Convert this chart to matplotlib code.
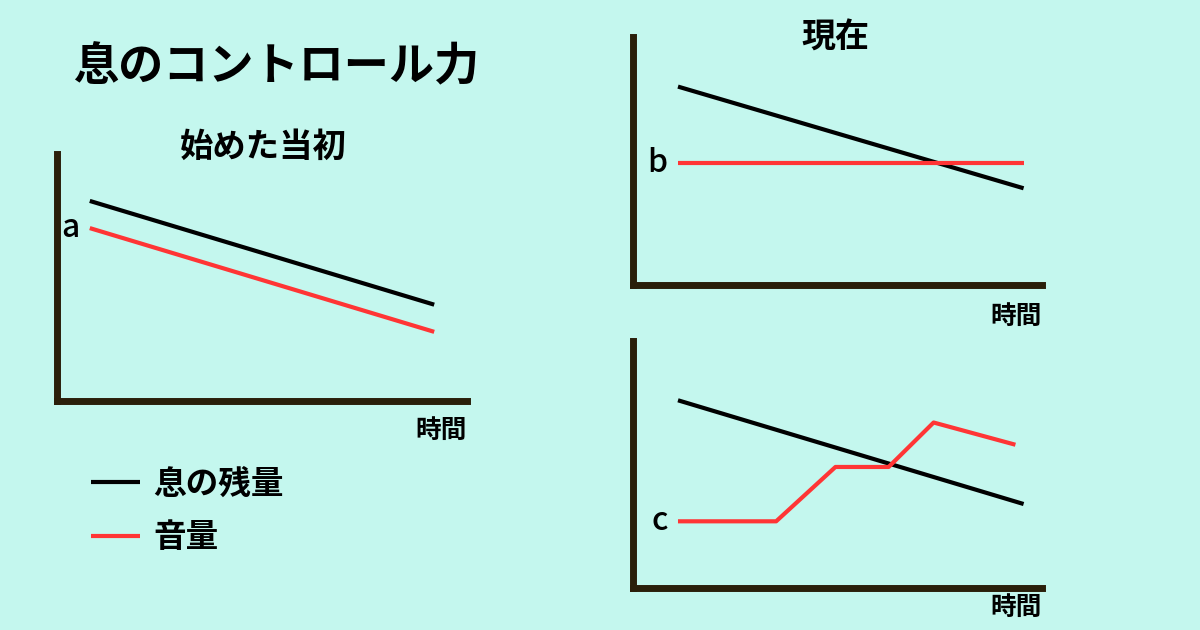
import matplotlib.pyplot as plt

plt.rcParams['font.family'] = ['Noto Sans CJK JP', 'DejaVu Sans']

BG = '#c4f7ee'
AXIS = '#2a1f0a'
BLACK = '#000000'
RED = '#ff3535'

# 始めた当初
t1 = [0.8, 9.2]
breath1 = [8.1, 3.9]
volume1 = [7.0, 2.8]

# 現在
t2 = [1.1, 9.55]
breath2 = [8.0, 3.9]
volume2 = [4.9, 4.9]

# 現在 (下)
t3 = [1.1, 9.55]
breath3 = [7.6, 3.4]
t3_vol = [1.1, 3.5, 4.95, 6.25, 7.35, 9.35]
volume3 = [2.7, 2.7, 4.9, 4.9, 6.7, 5.8]

labels = ['a', 'b', 'c']
legend_labels = ['息の残量', '音量']

fig = plt.figure(figsize=(12, 6.3), dpi=100, facecolor=BG)


def make_axes(rect):
    ax = fig.add_axes(rect)
    ax.set_facecolor('none')
    ax.set_xlim(0, 10)
    ax.set_ylim(0, 10)
    for s in ['top', 'right']:
        ax.spines[s].set_visible(False)
    for s in ['left', 'bottom']:
        ax.spines[s].set_linewidth(5)
        ax.spines[s].set_color(AXIS)
        ax.spines[s].set_capstyle('projecting')
    ax.set_xticks([])
    ax.set_yticks([])
    return ax


W, H = 1200, 630


def rect(left, bottom, right, top):
    return [left / W, 1 - bottom / H, (right - left) / W, (bottom - top) / H]


ax1 = make_axes(rect(57, 401, 467, 154))
ax2 = make_axes(rect(633, 285, 1042, 37))
ax3 = make_axes(rect(633, 588, 1042, 341))

l1, = ax1.plot(t1, breath1, color=BLACK, lw=3, solid_capstyle='butt')
l2, = ax1.plot(t1, volume1, color=RED, lw=3, solid_capstyle='butt')
ax2.plot(t2, breath2, color=BLACK, lw=3, solid_capstyle='butt')
ax2.plot(t2, volume2, color=RED, lw=3, solid_capstyle='butt')
ax3.plot(t3, breath3, color=BLACK, lw=3, solid_capstyle='butt')
ax3.plot(t3_vol, volume3, color=RED, lw=3, solid_capstyle='butt')

# a / b / c labels at the start of the volume lines
for ax, x0, y0, lab in [(ax1, t1[0], volume1[0], labels[0]),
                        (ax2, t2[0], volume2[0], labels[1]),
                        (ax3, t3_vol[0], volume3[0], labels[2])]:
    ax.text(x0 - 0.25, y0, lab, ha='right', va='center', fontsize=23,
            fontweight='medium', color=BLACK)

for ax, dy in [(ax1, -0.12), (ax2, -0.125), (ax3, -0.078)]:
    ax.text(1.0, dy, '時間', transform=ax.transAxes, ha='right', va='center',
            fontsize=18.5, fontweight='bold')

fig.text(73 / W, 1 - 67 / H, '息のコントロール力', ha='left', va='center',
         fontsize=32.5, fontweight='bold')
fig.text(263 / W, 1 - 147 / H, '始めた当初', ha='center', va='center',
         fontsize=24, fontweight='bold')
fig.text(835 / W, 1 - 37 / H, '現在', ha='center', va='center',
         fontsize=24.5, fontweight='bold')

fig.legend([l1, l2], legend_labels, loc='center left',
           bbox_to_anchor=(91 / W, 1 - 511 / H), frameon=False,
           borderpad=0, borderaxespad=0, handlelength=1.5, handletextpad=0.42,
           labelspacing=0.62, prop={'size': 23.5, 'weight': 'bold'})

fig.savefig('out.png', dpi=100, facecolor=BG)
